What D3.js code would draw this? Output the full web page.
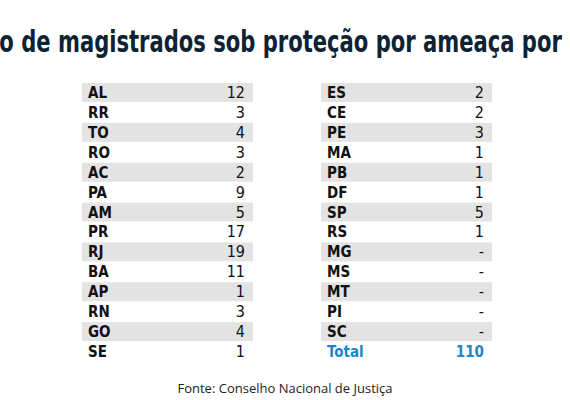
<!DOCTYPE html><html><head><meta charset="utf-8"><script src="https://cdn.jsdelivr.net/npm/d3@7"></script>
<style>body{margin:0;background:#fff}</style></head><body><svg id="c" width="570" height="400"></svg>
<script>
const statesLeft=["AL","RR","TO","RO","AC","PA","AM","PR","RJ","BA","AP","RN","GO","SE"];
const valuesLeft=[12,3,4,3,2,9,5,17,19,11,1,3,4,1];
const statesRight=["ES","CE","PE","MA","PB","DF","SP","RS","MG","MS","MT","PI","SC"];
const valuesRight=[2,2,3,1,1,1,5,1,null,null,null,null,null];
const totalLabel="Total", totalValue=110;
const svg=d3.select("#c");
const F="'DejaVu Sans Condensed','DejaVu Sans',sans-serif";
svg.append("text").attr("x",285).attr("y",52).attr("text-anchor","middle")
 .attr("font-family",F).attr("font-weight","bold").attr("font-size",30).attr("fill","#0d2232")
 .attr("textLength",730).attr("lengthAdjust","spacingAndGlyphs")
 .text("Número de magistrados sob proteção por ameaça por Estado");
const y=d3.scaleBand().domain(d3.range(14)).range([83,361]).paddingInner(0.05);
function table(x0,states,vals,total){
  const g=svg.append("g");
  states.forEach((s,i)=>{
    if(i%2===0)g.append("rect").attr("x",x0).attr("y",y(i)).attr("width",171).attr("height",y.bandwidth()).attr("fill","#e3e3e3");
    const cy=y(i)+y.bandwidth()/2+5.5;
    g.append("text").attr("x",x0+6).attr("y",cy).attr("font-family",F).attr("font-weight","bold").attr("font-size",15).attr("fill","#111").text(s);
    g.append("text").attr("x",x0+163).attr("y",cy).attr("text-anchor","end").attr("font-family",F).attr("font-size",16).attr("fill","#111").text(vals[i]==null?"-":vals[i]);
  });
  if(total){const i=states.length, cy=y(i)+y.bandwidth()/2+5.5;
    g.append("text").attr("x",x0+6).attr("y",cy).attr("font-family",F).attr("font-weight","bold").attr("font-size",15).attr("fill","#1a86c8").text(totalLabel);
    g.append("text").attr("x",x0+163).attr("y",cy).attr("text-anchor","end").attr("font-family",F).attr("font-weight","bold").attr("font-size",15).attr("fill","#1a86c8").text(totalValue);}
}
table(82,statesLeft,valuesLeft,false);
table(321,statesRight,valuesRight,true);
svg.append("text").attr("x",285).attr("y",393).attr("text-anchor","middle").attr("font-family","'Open Sans',sans-serif").attr("font-size",13).attr("fill","#222").text("Fonte: Conselho Nacional de Justiça");
</script></body></html>
